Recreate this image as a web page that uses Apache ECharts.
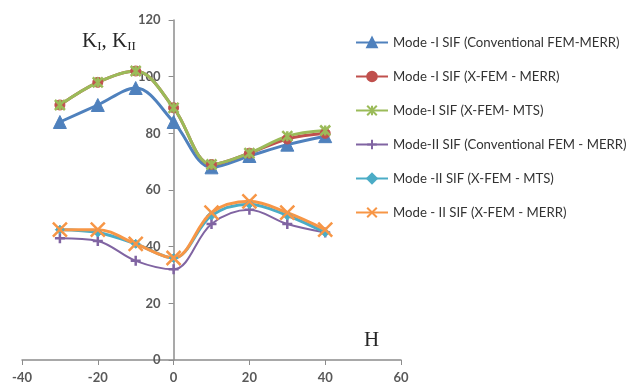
<!DOCTYPE html>
<html>
<head>
<meta charset="utf-8">
<script src="https://cdn.jsdelivr.net/npm/echarts@6/dist/echarts.min.js"></script>
<style>
  html, body { margin: 0; padding: 0; background: #fff; }
  #chart { width: 639px; height: 387px; }
</style>
</head>
<body>
<div id="chart"></div>
<script>
// Crack offset H and stress intensity factors
const hValues = [-30, -20, -10, 0, 10, 20, 30, 40];

const modeIConvMerr = [84, 90, 96, 84, 68, 72, 76, 79];
const modeIXfemMerr = [90, 98, 102, 89, 69, 73, 78, 80];
const modeIXfemMts = [90, 98, 102, 89, 69, 73, 79, 81];
const modeIIConvMerr = [43, 42, 35, 32, 48, 53, 48, 45];
const modeIIXfemMts = [46, 45, 41, 36, 51, 55, 51, 45];
const modeIIXfemMerr = [46, 46, 41, 36, 52, 56, 52, 46];

const seriesNames = [
  'Mode -I SIF (Conventional FEM-MERR)',
  'Mode -I SIF (X-FEM - MERR)',
  'Mode-I SIF (X-FEM- MTS)',
  'Mode-II SIF (Conventional FEM - MERR)',
  'Mode -II SIF (X-FEM - MTS)',
  'Mode - II SIF (X-FEM - MERR)'
];

const xTicks = { min: -40, max: 60, interval: 20 };
const yTicks = { min: 0, max: 120, interval: 20 };

// marker shapes
const starPath = 'path://M0,0 L10,10 M10,0 L0,10 M5,0 L5,10';
const crossPath = 'path://M0,0 L10,10 M10,0 L0,10';
const plusPath = 'path://M5,0 L5,10 M0,5 L10,5';

function pairs(vals) {
  return hValues.map((h, i) => [h, vals[i]]);
}

function lineSeries(name, vals, color, width, symbol, size, strokeMarker) {
  return {
    name: name,
    type: 'line',
    smooth: 0.35,
    data: pairs(vals),
    symbol: symbol,
    symbolSize: size,
    lineStyle: { color: color, width: width },
    itemStyle: strokeMarker
      ? { color: color, borderColor: color, borderWidth: 2.5 }
      : { color: color, borderColor: color, borderWidth: 1 },
    emphasis: { disabled: true }
  };
}

const gridLeft = 22, gridRight = 238, chartWidth = 639;
const plotWidth = chartWidth - gridLeft - gridRight;
// vertical axis sits at H = 0
const yAxisShift = plotWidth * (0 - xTicks.min) / (xTicks.max - xTicks.min);

const tickFont = { color: '#595959', fontFamily: 'Lato', fontSize: 13, fontWeight: 'bold' };

const chart = echarts.init(document.getElementById('chart'), null, { renderer: 'canvas' });

chart.setOption({
  animation: false,
  backgroundColor: '#ffffff',
  grid: { left: gridLeft, right: gridRight, top: 20, bottom: 27 },
  xAxis: {
    type: 'value',
    min: xTicks.min, max: xTicks.max, interval: xTicks.interval,
    axisLine: { show: true, onZero: false, lineStyle: { color: '#8c8c8c', width: 1.5 } },
    axisTick: { show: true, length: 5, lineStyle: { color: '#8c8c8c' } },
    axisLabel: Object.assign({ margin: 11 }, tickFont),
    splitLine: { show: false }
  },
  yAxis: {
    type: 'value',
    min: yTicks.min, max: yTicks.max, interval: yTicks.interval,
    offset: -yAxisShift,
    axisLine: { show: true, onZero: false, lineStyle: { color: '#8c8c8c', width: 1.5 } },
    axisTick: { show: true, length: 5, lineStyle: { color: '#8c8c8c' } },
    axisLabel: Object.assign({ margin: 13 }, tickFont),
    splitLine: { show: false }
  },
  legend: {
    orient: 'vertical',
    left: 350,
    top: 31,
    itemWidth: 32,
    itemHeight: 12,
    itemGap: 21,
    textStyle: { color: '#333333', fontFamily: 'Lato', fontSize: 13.2 },
    data: seriesNames
  },
  graphic: [
    {
      type: 'text', left: 82, top: 31,
      style: {
        text: 'K{s|I}, K{s|II}',
        rich: {
          s: { fontFamily: 'Liberation Serif', fontSize: 13, fill: '#262626', padding: [11, 0, 0, 0] }
        },
        font: '21px "Liberation Serif"',
        fill: '#262626'
      }
    },
    {
      type: 'text', left: 364, top: 330,
      style: { text: 'H', font: '21px "Liberation Serif"', fill: '#262626' }
    }
  ],
  series: [
    lineSeries(seriesNames[0], modeIConvMerr, '#4F81BD', 3, 'triangle', 13, false),
    lineSeries(seriesNames[1], modeIXfemMerr, '#C0504D', 3, 'circle', 10, false),
    lineSeries(seriesNames[2], modeIXfemMts, '#9BBB59', 3, starPath, 10, true),
    lineSeries(seriesNames[3], modeIIConvMerr, '#8064A2', 2, plusPath, 10, true),
    lineSeries(seriesNames[4], modeIIXfemMts, '#4BACC6', 3, 'diamond', 9, false),
    lineSeries(seriesNames[5], modeIIXfemMerr, '#F79646', 3, crossPath, 14, true)
  ]
});
</script>
</body>
</html>
